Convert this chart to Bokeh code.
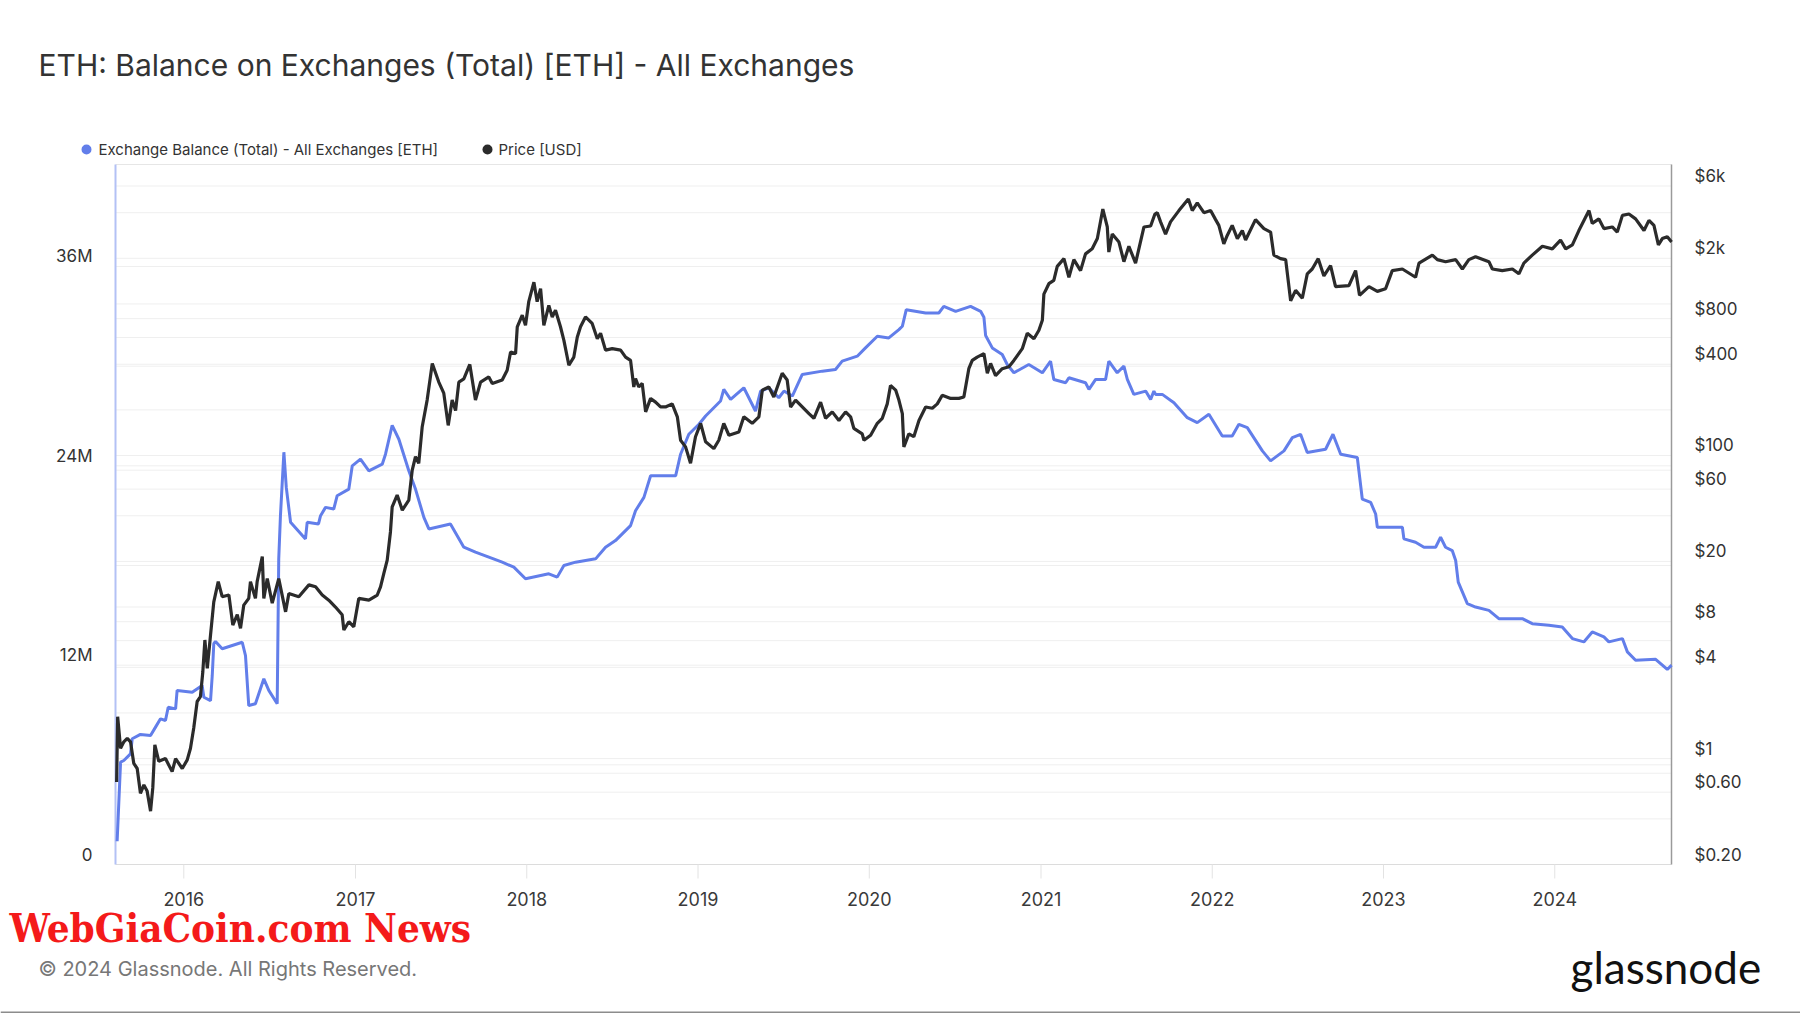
import datetime as dt
import math
from bokeh.plotting import figure
from bokeh.models import Range1d, LogScale, LinearScale
from bokeh.core.properties import value
from bokeh.embed import file_html
from bokeh.resources import INLINE

TITLE = "ETH: Balance on Exchanges (Total) [ETH] - All Exchanges"
SERIES_BALANCE = "Exchange Balance (Total) - All Exchanges [ETH]"
SERIES_PRICE = "Price [USD]"
COPYRIGHT = "\u00a9 2024 Glassnode. All Rights Reserved."
WATERMARK = "WebGiaCoin.com News"
BRAND = "glassnode"

# Exchange balance (millions of ETH), by fractional year
balance_year = [2015.611, 2015.631, 2015.650, 2015.689, 2015.699, 2015.747, 2015.806, 2015.835, 2015.864, 2015.893,
                2015.909, 2015.952, 2015.961, 2016.049, 2016.107, 2016.117, 2016.156, 2016.166, 2016.175, 2016.185,
                2016.224, 2016.341, 2016.360, 2016.379, 2016.418, 2016.467, 2016.496, 2016.545, 2016.554, 2016.564,
                2016.584, 2016.598, 2016.623, 2016.710, 2016.720, 2016.786, 2016.798, 2016.827, 2016.875, 2016.895,
                2016.963, 2016.983, 2017.031, 2017.080, 2017.158, 2017.177, 2017.216, 2017.255, 2017.313, 2017.352,
                2017.401, 2017.430, 2017.556, 2017.634, 2017.702, 2017.780, 2017.858, 2017.926, 2017.994, 2018.130,
                2018.179, 2018.218, 2018.286, 2018.403, 2018.461, 2018.519, 2018.607, 2018.636, 2018.685, 2018.724,
                2018.870, 2018.899, 2018.947, 2019.006, 2019.045, 2019.132, 2019.151, 2019.191, 2019.268, 2019.336,
                2019.366, 2019.414, 2019.472, 2019.502, 2019.551, 2019.609, 2019.726, 2019.803, 2019.842, 2019.930,
                2019.978, 2020.047, 2020.114, 2020.173, 2020.193, 2020.216, 2020.329, 2020.406, 2020.435, 2020.504,
                2020.591, 2020.650, 2020.669, 2020.679, 2020.718, 2020.776, 2020.805, 2020.844, 2020.931, 2021.010,
                2021.058, 2021.077, 2021.146, 2021.165, 2021.262, 2021.282, 2021.321, 2021.379, 2021.398, 2021.447,
                2021.486, 2021.506, 2021.544, 2021.613, 2021.642, 2021.661, 2021.671, 2021.710, 2021.778, 2021.856,
                2021.914, 2021.982, 2022.060, 2022.118, 2022.157, 2022.206, 2022.294, 2022.342, 2022.420, 2022.469,
                2022.517, 2022.556, 2022.663, 2022.706, 2022.751, 2022.848, 2022.877, 2022.926, 2022.955, 2022.965,
                2023.111, 2023.120, 2023.188, 2023.237, 2023.305, 2023.334, 2023.363, 2023.402, 2023.422, 2023.437,
                2023.490, 2023.538, 2023.616, 2023.674, 2023.811, 2023.869, 2023.966, 2024.044, 2024.103, 2024.170,
                2024.219, 2024.287, 2024.316, 2024.395, 2024.424, 2024.472, 2024.589, 2024.657, 2024.682]
balance_millions = [1.4, 6.16, 6.26, 6.66, 7.57, 7.83, 7.77, 8.27, 8.77, 8.67,
                    9.47, 9.37, 10.48, 10.37, 10.78, 10.07, 9.87, 11.38, 13.29, 13.43,
                    12.99, 13.38, 12.58, 9.57, 9.68, 11.18, 10.48, 9.68, 18.4, 21.0,
                    24.82, 22.7, 20.6, 19.6, 20.6, 20.5, 21.0, 21.5, 21.4, 22.2,
                    22.6, 24.0, 24.4, 23.7, 24.1, 24.7, 26.43, 25.6, 23.7, 22.6,
                    20.9, 20.2, 20.5, 19.1, 18.8, 18.5, 18.2, 17.9, 17.2, 17.5,
                    17.3, 18.0, 18.2, 18.4, 19.1, 19.5, 20.4, 21.3, 22.1, 23.4,
                    23.4, 24.7, 25.9, 26.5, 27.0, 27.9, 28.6, 28.0, 28.7, 27.3,
                    28.5, 28.7, 28.1, 28.5, 28.2, 29.5, 29.7, 29.8, 30.3, 30.6,
                    31.1, 31.8, 31.7, 32.2, 32.4, 33.4, 33.2, 33.2, 33.6, 33.3,
                    33.6, 33.3, 32.95, 31.85, 31.1, 30.7, 30.1, 29.6, 30.1, 29.6,
                    30.3, 29.2, 29.0, 29.3, 29.0, 28.6, 29.2, 29.2, 30.3, 29.6,
                    30.0, 29.2, 28.3, 28.5, 28.0, 28.5, 28.3, 28.3, 27.8, 26.9,
                    26.6, 27.1, 25.8, 25.8, 26.5, 26.3, 24.9, 24.3, 24.9, 25.7,
                    25.9, 24.8, 25.0, 25.9, 24.7, 24.5, 22.0, 21.8, 21.1, 20.3,
                    20.3, 19.6, 19.4, 19.1, 19.1, 19.7, 19.1, 18.9, 18.3, 17.0,
                    15.7, 15.5, 15.3, 14.8, 14.8, 14.5, 14.4, 14.3, 13.6, 13.4,
                    14.0, 13.7, 13.4, 13.6, 12.8, 12.3, 12.35, 11.74, 12.0]

# ETH price (USD), by fractional year
price_year = [2015.608, 2015.614, 2015.631, 2015.650, 2015.670, 2015.689, 2015.708, 2015.728, 2015.747, 2015.767,
              2015.786, 2015.806, 2015.819, 2015.831, 2015.854, 2015.893, 2015.932, 2015.952, 2015.991, 2016.020,
              2016.039, 2016.058, 2016.078, 2016.097, 2016.111, 2016.123, 2016.137, 2016.156, 2016.175, 2016.201,
              2016.224, 2016.263, 2016.286, 2016.312, 2016.331, 2016.350, 2016.379, 2016.389, 2016.418, 2016.428,
              2016.458, 2016.467, 2016.487, 2016.516, 2016.554, 2016.594, 2016.613, 2016.671, 2016.730, 2016.769,
              2016.808, 2016.846, 2016.885, 2016.924, 2016.934, 2016.963, 2016.992, 2017.021, 2017.080, 2017.129,
              2017.148, 2017.167, 2017.187, 2017.206, 2017.216, 2017.245, 2017.275, 2017.313, 2017.333, 2017.352,
              2017.371, 2017.391, 2017.420, 2017.450, 2017.488, 2017.517, 2017.543, 2017.566, 2017.586, 2017.605,
              2017.634, 2017.669, 2017.702, 2017.732, 2017.780, 2017.800, 2017.858, 2017.887, 2017.907, 2017.936,
              2017.946, 2017.975, 2017.994, 2018.013, 2018.043, 2018.062, 2018.082, 2018.101, 2018.130, 2018.150,
              2018.169, 2018.198, 2018.218, 2018.247, 2018.276, 2018.296, 2018.315, 2018.344, 2018.383, 2018.413,
              2018.432, 2018.461, 2018.500, 2018.549, 2018.578, 2018.607, 2018.626, 2018.636, 2018.655, 2018.675,
              2018.695, 2018.724, 2018.753, 2018.782, 2018.811, 2018.850, 2018.880, 2018.899, 2018.928, 2018.957,
              2018.986, 2019.016, 2019.045, 2019.093, 2019.122, 2019.151, 2019.181, 2019.239, 2019.268, 2019.317,
              2019.356, 2019.376, 2019.414, 2019.443, 2019.492, 2019.521, 2019.541, 2019.570, 2019.599, 2019.648,
              2019.677, 2019.716, 2019.745, 2019.784, 2019.823, 2019.862, 2019.891, 2019.910, 2019.959, 2019.969,
              2020.008, 2020.047, 2020.076, 2020.105, 2020.124, 2020.154, 2020.173, 2020.193, 2020.202, 2020.231,
              2020.260, 2020.290, 2020.329, 2020.368, 2020.397, 2020.426, 2020.475, 2020.523, 2020.552, 2020.581,
              2020.601, 2020.630, 2020.669, 2020.689, 2020.708, 2020.737, 2020.776, 2020.815, 2020.844, 2020.893,
              2020.922, 2020.961, 2020.990, 2021.010, 2021.019, 2021.048, 2021.077, 2021.097, 2021.136, 2021.165,
              2021.194, 2021.233, 2021.262, 2021.301, 2021.331, 2021.363, 2021.389, 2021.398, 2021.418, 2021.457,
              2021.486, 2021.515, 2021.554, 2021.603, 2021.642, 2021.667, 2021.681, 2021.700, 2021.729, 2021.758,
              2021.807, 2021.862, 2021.885, 2021.914, 2021.953, 2021.992, 2022.021, 2022.040, 2022.069, 2022.089,
              2022.118, 2022.148, 2022.177, 2022.196, 2022.254, 2022.303, 2022.342, 2022.361, 2022.400, 2022.430,
              2022.459, 2022.488, 2022.527, 2022.556, 2022.585, 2022.620, 2022.653, 2022.692, 2022.721, 2022.799,
              2022.838, 2022.861, 2022.916, 2022.965, 2023.013, 2023.052, 2023.111, 2023.188, 2023.208, 2023.286,
              2023.315, 2023.363, 2023.422, 2023.461, 2023.499, 2023.538, 2023.616, 2023.636, 2023.694, 2023.753,
              2023.791, 2023.820, 2023.869, 2023.928, 2023.986, 2024.034, 2024.064, 2024.103, 2024.141, 2024.200,
              2024.219, 2024.258, 2024.287, 2024.336, 2024.365, 2024.395, 2024.433, 2024.472, 2024.521, 2024.550,
              2024.579, 2024.605, 2024.628, 2024.657, 2024.682]
price_usd = [0.70, 1.89, 1.17, 1.29, 1.36, 1.29, 0.93, 0.86, 0.59, 0.67,
             0.61, 0.45, 0.64, 1.23, 0.96, 1.0, 0.82, 1.0, 0.86, 0.98,
             1.17, 1.59, 2.38, 2.56, 3.74, 6.06, 3.94, 6.54, 10.8, 14.7,
             11.7, 12.0, 7.6, 8.9, 7.24, 10.3, 11.4, 14.7, 11.4, 14.7,
             21.5, 11.4, 15.4, 10.6, 15.4, 9.3, 12.3, 11.7, 14.0, 13.6,
             12.0, 11.1, 10.0, 8.9, 7.05, 8.0, 7.4, 11.4, 11.1, 12.0,
             13.6, 16.6, 20.4, 31.4, 45.8, 54.8, 43.6, 50.8, 80.2, 98.1,
             88.8, 154, 232, 404, 305, 258, 158, 232, 198, 305,
             320, 399, 232, 305, 330, 299, 315, 365, 482, 470,
             707, 843, 722, 1035, 1392, 1035, 1263, 722, 977, 821,
             908, 707, 575, 394, 446, 602, 707, 821, 744, 589,
             640, 496, 507, 496, 446, 424, 283, 322, 283, 299,
             194, 238, 225, 209, 209, 219, 180, 126, 114, 88.8,
             133, 163, 123, 111, 126, 163, 136, 143, 180, 163,
             180, 270, 283, 243, 349, 315, 209, 232, 215, 189,
             176, 225, 176, 194, 170, 194, 180, 151, 139, 126,
             136, 163, 176, 219, 290, 270, 232, 189, 114, 139,
             133, 170, 209, 205, 219, 250, 238, 238, 243, 374,
             424, 446, 470, 349, 405, 337, 374, 385, 424, 507,
             640, 589, 670, 780, 1160, 1360, 1430, 1770, 1990, 1500,
             1960, 1660, 2140, 2310, 2700, 4230, 3220, 2200, 2890, 2560,
             1900, 2400, 1860, 3220, 3270, 3920, 4000, 3480, 2890, 3480,
             4130, 4930, 4130, 4640, 4000, 4130, 3600, 3300, 2490, 2830,
             3300, 2700, 3050, 2640, 3600, 3140, 2980, 2100, 1990, 1960,
             1050, 1230, 1090, 1580, 1700, 1990, 1530, 1790, 1300, 1320,
             1660, 1140, 1300, 1210, 1260, 1660, 1700, 1500, 1860, 2100,
             1960, 1900, 1960, 1700, 1960, 2050, 1900, 1700, 1660, 1700,
             1580, 1860, 2100, 2400, 2310, 2640, 2310, 2450, 3050, 4130,
             3400, 3640, 3140, 3220, 2980, 3840, 3920, 3640, 3050, 3560,
             3300, 2450, 2700, 2780, 2560]

year_ticks = [2016, 2017, 2018, 2019, 2020, 2021, 2022, 2023, 2024]
year_labels = [str(y) for y in year_ticks]
left_tick_values = [0, 12, 24, 36]
left_tick_labels = ["0", "12M", "24M", "36M"]
left_grid_values = [6, 12, 18, 24, 30, 36]
price_tick_values = [6000, 2000, 800, 400, 100, 60, 20, 8, 4, 1, 0.6, 0.2]
price_tick_labels = ["$6k", "$2k", "$800", "$400", "$100", "$60", "$20", "$8", "$4", "$1", "$0.60", "$0.20"]
price_grid_values = [0.4, 0.6, 0.8, 1, 2, 4, 6, 8, 10, 20, 40, 60, 80, 100, 200, 400, 600, 800,
                     1000, 2000, 4000, 6000]

BLUE = "#627eea"
BLACK = "#2b2b2b"
TEXT = "#333333"
GRID = "#efefef"
FONT = "Inter"

BASE = dt.datetime(2016, 1, 1)
EPOCH = dt.datetime(1970, 1, 1)


def to_ms(t):
    return (t - EPOCH).total_seconds() * 1000.0


def year_to_ms(y):
    return to_ms(BASE + dt.timedelta(days=(y - 2016.0) * 365.24))


# ---------- page geometry (pixels) ----------
W, H = 1800, 1013
FL, FR, FT, FB = 115, 1671, 164, 864          # plot-area box
FW, FH = FR - FL, FB - FT

# plot-area data extents
x_start = to_ms(dt.datetime(2015, 8, 8, 10))
x_end = to_ms(dt.datetime(2024, 9, 5, 20))
BAL_LO, BAL_HI = 0.0, 42.14e6
PRICE_LO, PRICE_HI = 0.2, 8320.0

# extend each scale so that the plot-area box lands at its pixel position on a full-page frame
ms_px = (x_end - x_start) / FW
bal_px = (BAL_HI - BAL_LO) / FH
dec_px = (math.log10(PRICE_HI) - math.log10(PRICE_LO)) / FH
x_range = Range1d(x_start - FL * ms_px, x_end + (W - FR) * ms_px)
y_range = Range1d(BAL_LO - (H - FB) * bal_px, BAL_HI + FT * bal_px)
price_range = Range1d(10 ** (math.log10(PRICE_LO) - (H - FB) * dec_px),
                      10 ** (math.log10(PRICE_HI) + FT * dec_px))

# tick labels sit ~10px above their grid line
LIFT = 10.0
bal_lift = LIFT * bal_px
price_lift = 10 ** (LIFT * dec_px)

p = figure(width=W, height=H, x_range=x_range, y_range=y_range,
           x_axis_location=None, y_axis_location=None, output_backend="svg", toolbar_location=None,
           min_border_left=0, min_border_right=0, min_border_top=0, min_border_bottom=0)
p.extra_y_ranges = {"price": price_range, "py": Range1d(H, 0)}
p.extra_y_scales = {"price": LogScale(), "py": LinearScale()}
p.extra_x_ranges = {"px": Range1d(0, W)}
p.extra_x_scales = {"px": LinearScale()}
p.grid.visible = False
p.outline_line_color = None
p.background_fill_color = "white"
p.border_fill_color = "white"

# ---------- grid lines ----------
p.segment(x0=[x_start] * len(left_grid_values), x1=[x_end] * len(left_grid_values),
          y0=[v * 1e6 for v in left_grid_values], y1=[v * 1e6 for v in left_grid_values],
          line_color=GRID, line_width=1)
p.segment(x0=[x_start] * len(price_grid_values), x1=[x_end] * len(price_grid_values),
          y0=price_grid_values, y1=price_grid_values, y_range_name="price",
          line_color=GRID, line_width=1)

# ---------- plot-area border ----------
p.segment(x0=[FL], y0=[FT], x1=[FR], y1=[FT], x_range_name="px", y_range_name="py",
          line_color="#e6e6e6", line_width=1)
p.segment(x0=[FL], y0=[FB], x1=[FR], y1=[FB], x_range_name="px", y_range_name="py",
          line_color="#dcdcdc", line_width=1)
p.segment(x0=[FL], y0=[FT], x1=[FL], y1=[FB], x_range_name="px", y_range_name="py",
          line_color="#b3c1f5", line_width=2)
p.segment(x0=[FR], y0=[FT], x1=[FR], y1=[FB], x_range_name="px", y_range_name="py",
          line_color="#9a9a9a", line_width=1.5)

# ---------- x axis (year ticks) ----------
year_ms = [to_ms(dt.datetime(y, 1, 1)) for y in year_ticks]
p.segment(x0=year_ms, x1=year_ms, y0=[FB] * len(year_ms), y1=[FB + 14] * len(year_ms),
          y_range_name="py", line_color="#e3e3e3", line_width=1)
p.text(x=year_ms, y=[FB + 34] * len(year_ms), text=year_labels, y_range_name="py",
       text_font=value(FONT), text_font_size=value("18px"), text_color="#3a3a3a",
       text_align="center", text_baseline="middle")

# ---------- left axis (balance) ----------
p.text(x=[FL - 23] * len(left_tick_values), y=[v * 1e6 + bal_lift for v in left_tick_values],
       text=left_tick_labels, x_range_name="px",
       text_font=value(FONT), text_font_size=value("17px"), text_color=TEXT,
       text_align="right", text_baseline="middle")

# ---------- right axis (price, log) ----------
p.text(x=[FR + 23] * len(price_tick_values), y=[v * price_lift for v in price_tick_values],
       text=price_tick_labels, x_range_name="px", y_range_name="price",
       text_font=value(FONT), text_font_size=value("17px"), text_color=TEXT,
       text_align="left", text_baseline="middle")

# ---------- series ----------
p.line([year_to_ms(y) for y in balance_year], [v * 1e6 for v in balance_millions],
       line_color=BLUE, line_width=3)
p.line([year_to_ms(y) for y in price_year], price_usd, y_range_name="price",
       line_color=BLACK, line_width=3.2)

# ---------- header: title and legend ----------
p.text(x=[38], y=[64], text=[TITLE], x_range_name="px", y_range_name="py",
       text_font=value(FONT), text_font_size=value("30px"), text_color=TEXT,
       text_align="left", text_baseline="middle")
p.scatter(x=[86, 487], y=[149, 149], x_range_name="px", y_range_name="py",
          size=10, marker="circle", fill_color=[BLUE, BLACK], line_color=None)
p.text(x=[98, 498], y=[149, 149], text=[SERIES_BALANCE, SERIES_PRICE],
       x_range_name="px", y_range_name="py",
       text_font=value(FONT), text_font_size=value("15px"), text_color=TEXT,
       text_align="left", text_baseline="middle")

# ---------- footer ----------
p.text(x=[9], y=[927], text=[WATERMARK], x_range_name="px", y_range_name="py",
       text_font=value("DejaVu Serif Condensed"), text_font_size=value("40px"),
       text_font_style=value("bold"), text_color="#f41a1a",
       text_align="left", text_baseline="middle")
p.text(x=[38], y=[968], text=[COPYRIGHT], x_range_name="px", y_range_name="py",
       text_font=value(FONT), text_font_size=value("20px"), text_color="#777777",
       text_align="left", text_baseline="middle")
p.text(x=[1570], y=[966], text=[BRAND], x_range_name="px", y_range_name="py",
       text_font=value("Lato"), text_font_size=value("44px"), text_color="#111111",
       text_align="left", text_baseline="alphabetic")
p.segment(x0=[0], y0=[1012], x1=[W], y1=[1012], x_range_name="px", y_range_name="py",
          line_color="#8c8c8c", line_width=2)

open("out.html", "w").write(file_html(p, INLINE))
